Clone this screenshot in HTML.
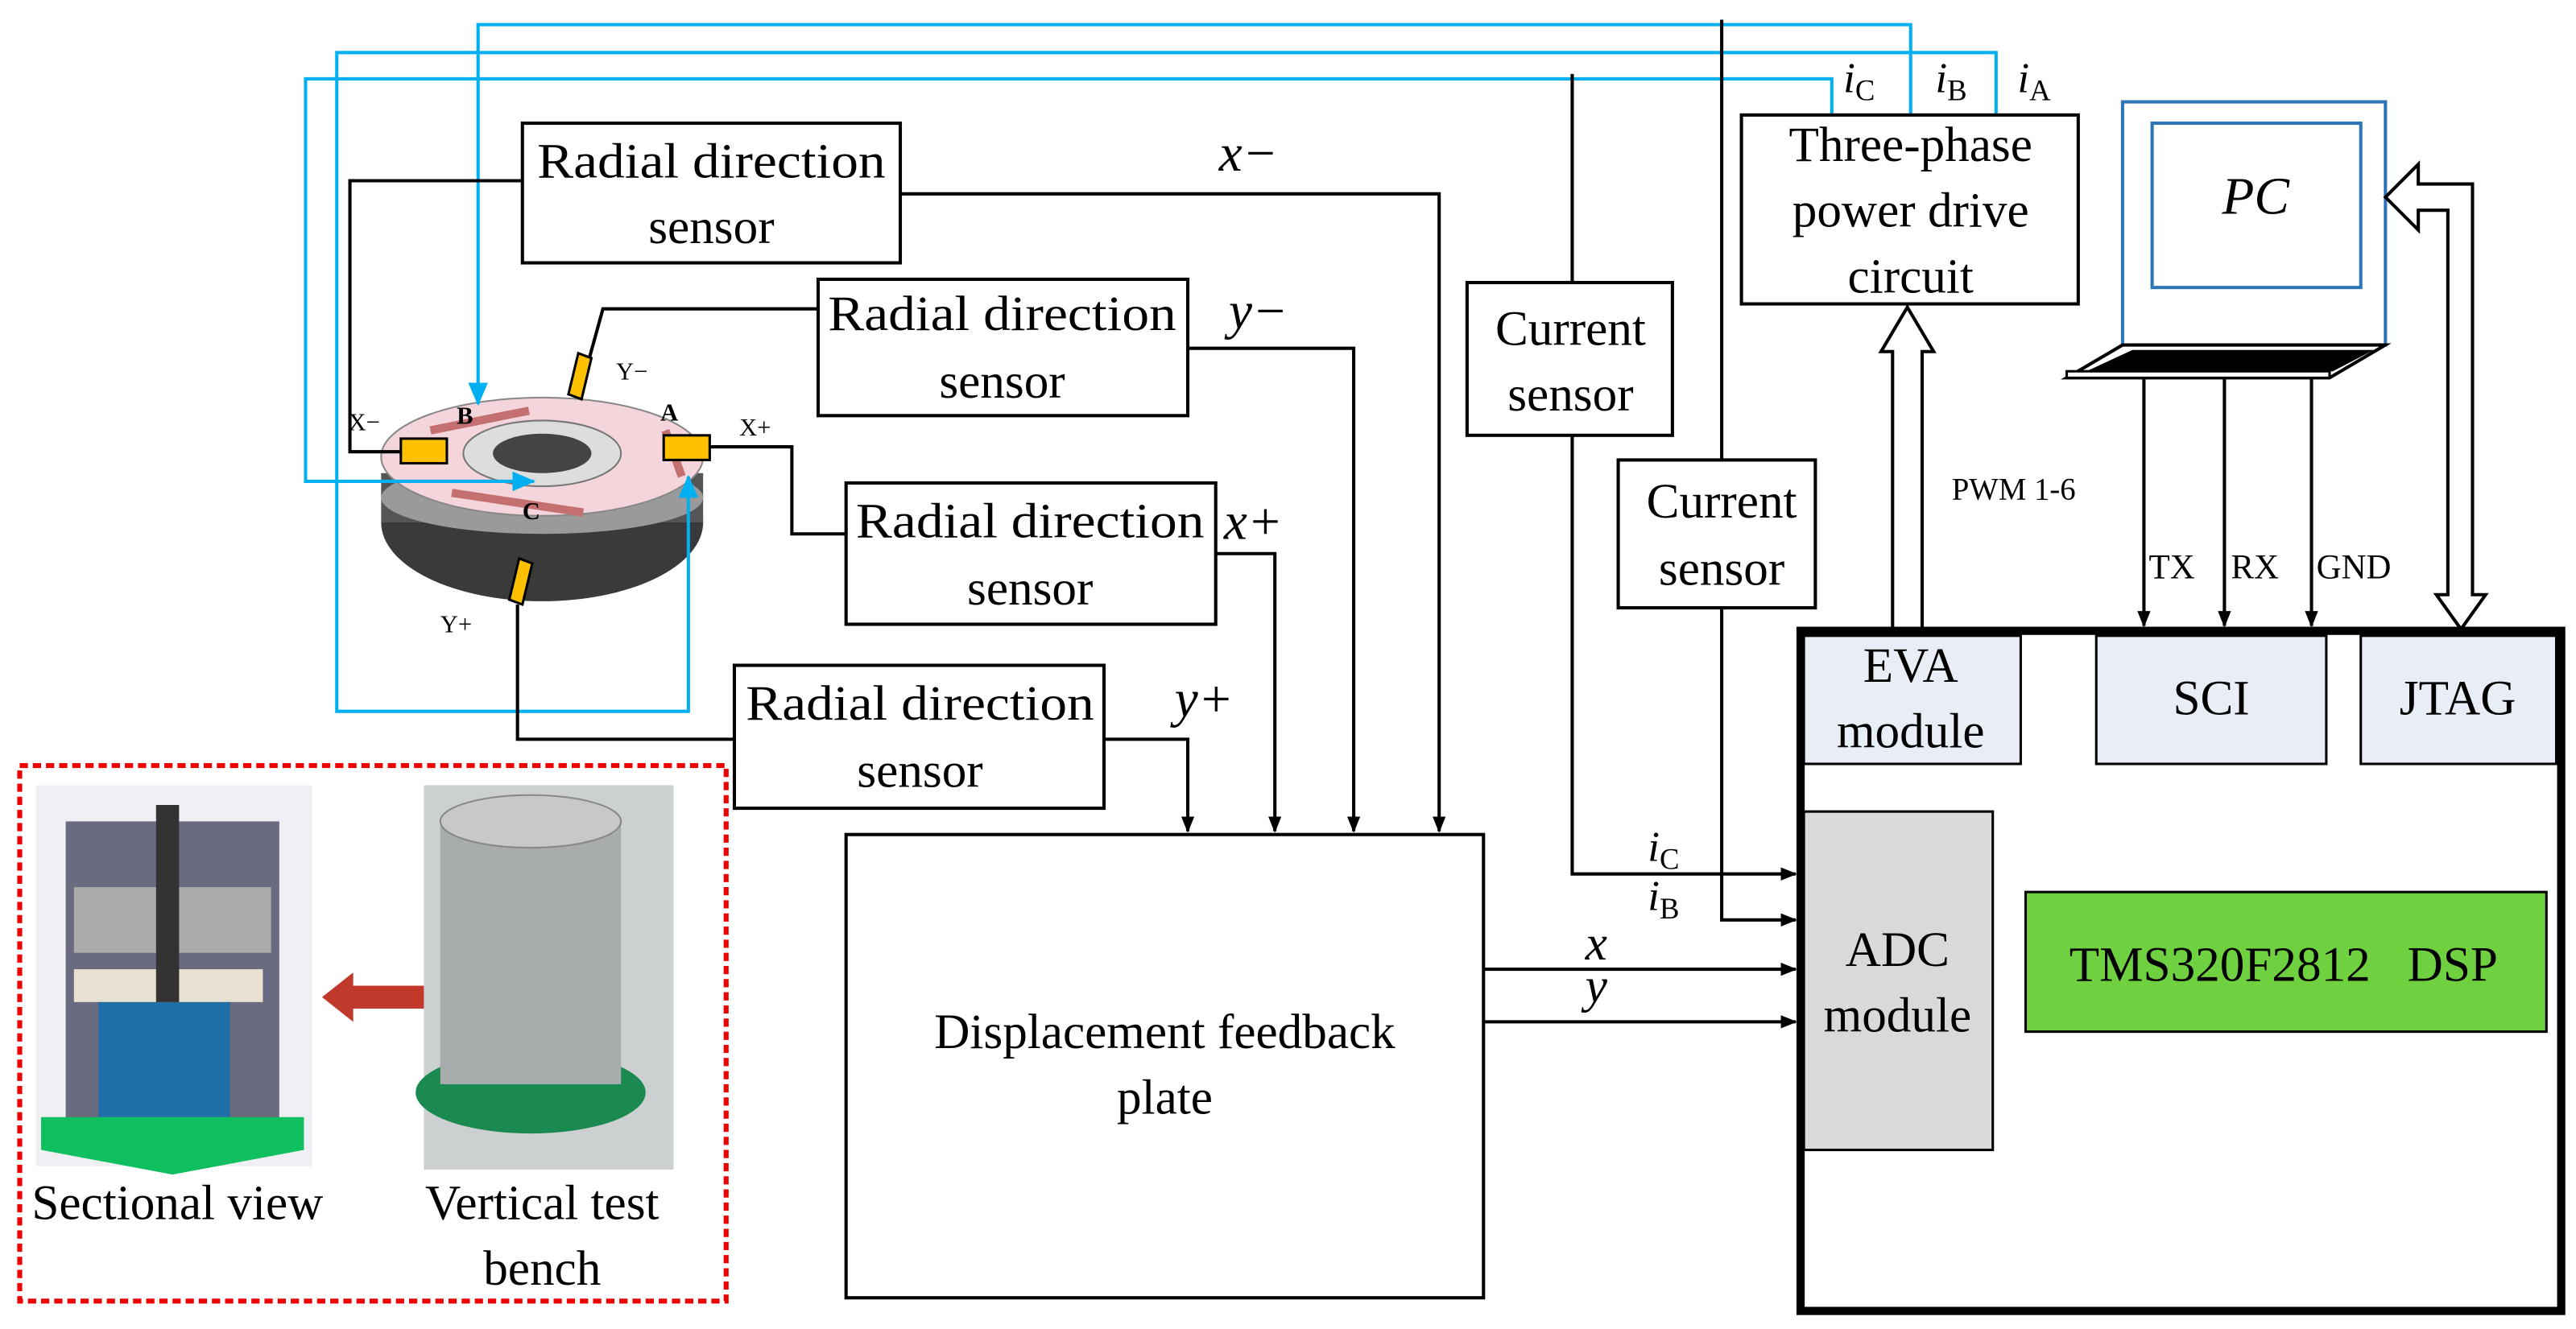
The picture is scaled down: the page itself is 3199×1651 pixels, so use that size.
<!DOCTYPE html>
<html><head><meta charset="utf-8"><style>html,body{margin:0;padding:0;background:#fff}svg{display:block}text{font-family:"Liberation Serif",serif;fill:#000}</style></head>
<body>
<svg width="3199" height="1651" viewBox="0 0 1568 809" preserveAspectRatio="none" xmlns="http://www.w3.org/2000/svg">
<defs>
<marker id="ab" markerWidth="10" markerHeight="10" refX="9" refY="5" orient="auto" markerUnits="userSpaceOnUse"><path d="M0,1 L10,5 L0,9 Z" fill="#000"/></marker>
<marker id="bb" markerWidth="14" markerHeight="12" refX="13" refY="6" orient="auto" markerUnits="userSpaceOnUse"><path d="M0,0 L14,6 L0,12 Z" fill="#00b0f0"/></marker>
</defs>
<rect width="1568" height="809" fill="#fff"/>
<!-- motor -->
<g>
<ellipse cx="330" cy="318" rx="98" ry="48" fill="#3a3a3a"/>
<rect x="232" y="288" width="196" height="30" fill="#555"/>
<ellipse cx="330" cy="303" rx="98" ry="22" fill="#9a9a9a"/>
<ellipse cx="330" cy="278" rx="98" ry="36" fill="#f5d5dc" stroke="#888"/>
<ellipse cx="330" cy="276" rx="48" ry="20" fill="#ddd" stroke="#777"/>
<ellipse cx="330" cy="276" rx="30" ry="12" fill="#444"/>
<path d="M262,262 L322,250 M275,300 L355,312" stroke="#c47070" stroke-width="5"/>
<path d="M405,262 L415,290" stroke="#c47070" stroke-width="5"/>
<rect x="244" y="267" width="28" height="15" fill="#ffc000" stroke="#000" stroke-width="1.5"/>
<rect x="404" y="265" width="28" height="15" fill="#ffc000" stroke="#000" stroke-width="1.5"/>
<polygon points="352,215 360,218 354,243 346,240" fill="#ffc000" stroke="#000" stroke-width="1.5"/>
<polygon points="316,340 324,343 318,368 310,365" fill="#ffc000" stroke="#000" stroke-width="1.5"/>
<text x="278" y="258" font-size="15" font-weight="bold">B</text>
<text x="402" y="256" font-size="15" font-weight="bold">A</text>
<text x="318" y="316" font-size="15" font-weight="bold">C</text>
<text x="212" y="262" font-size="15">X−</text>
<text x="450" y="265" font-size="15">X+</text>
<text x="375" y="231" font-size="15">Y−</text>
<text x="268" y="385" font-size="15">Y+</text>
</g>
<!-- blue wires -->
<g fill="none" stroke="#00b0f0" stroke-width="2">
<path d="M1163,70 V15 H291 V246" marker-end="url(#bb)"/>
<path d="M1215,70 V32 H205 V433 H419 V290" marker-end="url(#bb)"/>
<path d="M1115,70 V48 H186 V293 H325" marker-end="url(#bb)"/>
</g>
<!-- black wires -->
<g fill="none" stroke="#000" stroke-width="2">
<path d="M318,110 H213 V275 H244"/>
<path d="M498,188 H367 L359,217"/>
<path d="M432,272 H482 V325 H515"/>
<path d="M447,450 H315 V368"/>
<path d="M548,118 H876 V506" marker-end="url(#ab)"/>
<path d="M723,212 H824 V506" marker-end="url(#ab)"/>
<path d="M740,337 H776 V506" marker-end="url(#ab)"/>
<path d="M672,450 H723 V506" marker-end="url(#ab)"/>
<path d="M1048,12 V280"/>
<path d="M1048,370 V560 H1093" marker-end="url(#ab)"/>
<path d="M957,45 V172"/>
<path d="M957,265 V532 H1093" marker-end="url(#ab)"/>
<path d="M903,590 H1093" marker-end="url(#ab)"/>
<path d="M903,622 H1093" marker-end="url(#ab)"/>
<path d="M1305,230 V381" marker-end="url(#ab)"/>
<path d="M1354,230 V381" marker-end="url(#ab)"/>
<path d="M1407,230 V381" marker-end="url(#ab)"/>
</g>
<!-- boxes -->
<g fill="#fff" stroke="#000" stroke-width="2">
<rect x="318" y="75" width="230" height="85"/>
<rect x="498" y="170" width="225" height="83"/>
<rect x="515" y="294" width="225" height="86"/>
<rect x="447" y="405" width="225" height="87"/>
<rect x="893" y="172" width="125" height="93"/>
<rect x="985" y="280" width="120" height="90"/>
<rect x="1060" y="70" width="205" height="115"/>
<rect x="515" y="508" width="388" height="282"/>
</g>
<g font-size="30" text-anchor="middle">
<text x="433" y="108" textLength="212" lengthAdjust="spacingAndGlyphs">Radial direction</text><text x="433" y="148">sensor</text>
<text x="610" y="201" textLength="212" lengthAdjust="spacingAndGlyphs">Radial direction</text><text x="610" y="242">sensor</text>
<text x="627" y="327" textLength="212" lengthAdjust="spacingAndGlyphs">Radial direction</text><text x="627" y="368">sensor</text>
<text x="560" y="438" textLength="212" lengthAdjust="spacingAndGlyphs">Radial direction</text><text x="560" y="479">sensor</text>
<text x="956" y="210">Current</text><text x="956" y="250">sensor</text>
<text x="1048" y="315">Current</text><text x="1048" y="356">sensor</text>
<text x="1163" y="98">Three-phase</text><text x="1163" y="138">power drive</text><text x="1163" y="178">circuit</text>
<text x="709" y="638">Displacement feedback</text><text x="709" y="678">plate</text>
</g>
<g font-size="32" font-style="italic">
<text x="742" y="104">x−</text><text x="748" y="200">y−</text><text x="745" y="328">x+</text><text x="715" y="436">y+</text>
<text x="965" y="584" font-size="30">x</text><text x="965" y="610" font-size="30">y</text>
<text x="1003" y="524" font-size="26">i<tspan font-style="normal" font-size="18" dy="5">C</tspan></text>
<text x="1003" y="554" font-size="26">i<tspan font-style="normal" font-size="18" dy="5">B</tspan></text>
<text x="1122" y="56" font-size="26">i<tspan font-style="normal" font-size="18" dy="5">C</tspan></text>
<text x="1178" y="56" font-size="26">i<tspan font-style="normal" font-size="18" dy="5">B</tspan></text>
<text x="1228" y="56" font-size="26">i<tspan font-style="normal" font-size="18" dy="5">A</tspan></text>
</g>
<!-- PC -->
<rect x="1292" y="62" width="160" height="148" fill="#fff" stroke="#2e75b6" stroke-width="2"/>
<rect x="1310" y="75" width="127" height="100" fill="#fff" stroke="#2e75b6" stroke-width="2"/>
<text x="1373" y="130" font-size="32" font-style="italic" text-anchor="middle">PC</text>
<polygon points="1292,210 1452,210 1418,230 1258,230" fill="#fff" stroke="#000" stroke-width="2"/>
<polygon points="1298,213 1445,213 1420,226 1270,226" fill="#000"/>
<rect x="1258" y="226" width="160" height="4" fill="#fff" stroke="#000" stroke-width="1.5"/>
<!-- hollow arrows -->
<path d="M1452,120 L1472,100 V112 H1505 V362 H1513 L1498,383 L1483,362 H1490 V128 H1472 V140 Z" fill="#fff" stroke="#000" stroke-width="2"/>
<path d="M1152,383 V214 H1145 L1161,187 L1177,214 H1170 V383" fill="#fff" stroke="#000" stroke-width="2"/>
<text x="1188" y="304" font-size="19">PWM 1-6</text>
<text x="1308" y="352" font-size="21">TX</text><text x="1358" y="352" font-size="21">RX</text><text x="1410" y="352" font-size="21">GND</text>
<!-- DSP -->
<rect x="1096" y="384" width="463" height="414" fill="#fff" stroke="#000" stroke-width="5"/>
<g stroke="#000" stroke-width="1.5" fill="#e8edf6">
<rect x="1098" y="387" width="132" height="78"/>
<rect x="1276" y="387" width="140" height="78"/>
<rect x="1437" y="387" width="119" height="78"/>
</g>
<rect x="1098" y="494" width="115" height="206" fill="#d9d9d9" stroke="#000" stroke-width="1.5"/>
<rect x="1233" y="543" width="317" height="85" fill="#6fd13f" stroke="#000" stroke-width="1.5"/>
<g font-size="30" text-anchor="middle">
<text x="1163" y="415">EVA</text><text x="1163" y="455">module</text>
<text x="1346" y="435">SCI</text><text x="1496" y="435">JTAG</text>
<text x="1155" y="588">ADC</text><text x="1155" y="628">module</text>
<text x="1390" y="597" xml:space="preserve">TMS320F2812   DSP</text>
</g>
<!-- bottom-left -->
<rect x="12" y="466" width="430" height="326" fill="none" stroke="#e00" stroke-width="3" stroke-dasharray="5,3"/>
<rect x="22" y="478" width="168" height="232" fill="#f0f0f4"/>
<rect x="40" y="500" width="130" height="185" fill="#6a6a80"/>
<rect x="45" y="540" width="120" height="40" fill="#aaa"/>
<rect x="45" y="590" width="115" height="20" fill="#e8e0d0"/>
<rect x="60" y="610" width="80" height="70" fill="#1e6fa8"/>
<polygon points="25,680 185,680 185,700 105,715 25,700" fill="#10c060"/>
<rect x="95" y="490" width="14" height="120" fill="#333"/>
<rect x="258" y="478" width="152" height="234" fill="#ccd0d0"/>
<rect x="268" y="500" width="110" height="160" fill="#a8acac"/>
<ellipse cx="323" cy="500" rx="55" ry="16" fill="#c8c8c8" stroke="#888"/>
<ellipse cx="323" cy="665" rx="70" ry="25" fill="#1a8a50"/>
<rect x="268" y="620" width="110" height="40" fill="#a8acac"/>
<polygon points="196,607 215,592 215,600 258,600 258,614 215,614 215,622" fill="#c0392b"/>
<g font-size="30" text-anchor="middle">
<text x="108" y="742">Sectional view</text>
<text x="330" y="742">Vertical test</text>
<text x="330" y="782">bench</text>
</g>
</svg>
</body></html>
